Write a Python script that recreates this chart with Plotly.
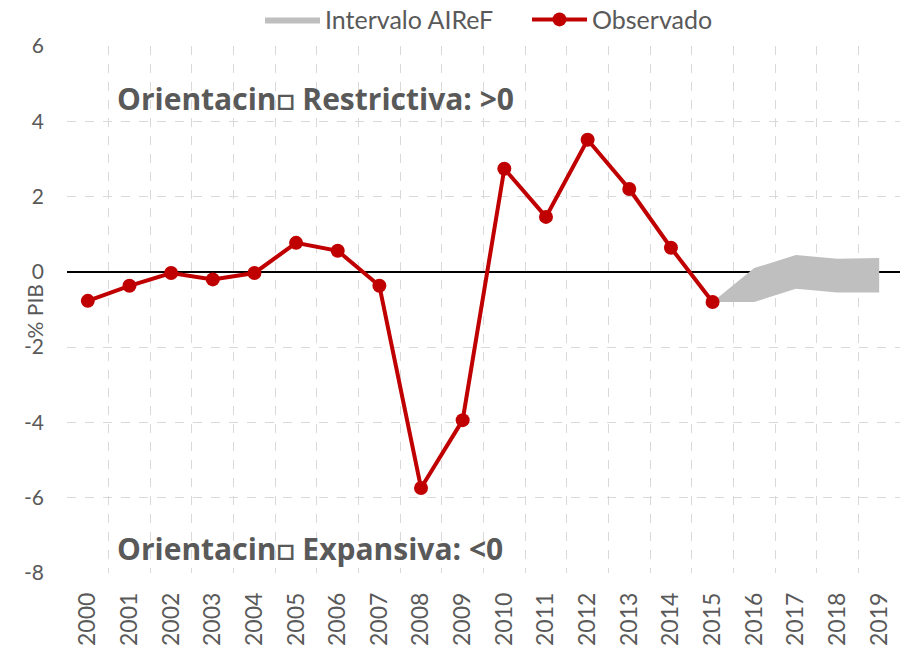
import plotly.graph_objects as go

years = [str(y) for y in range(2000, 2020)]
obs_years = years[:16]
observado = [-0.77, -0.37, -0.03, -0.2, -0.03, 0.77, 0.56, -0.37, -5.74, -3.94,
             2.74, 1.46, 3.51, 2.2, 0.64, -0.8]
band_years = ["2015", "2016", "2017", "2018", "2019"]
band_low = [-0.8, -0.8, -0.45, -0.55, -0.55]
band_high = [-0.8, 0.1, 0.45, 0.35, 0.37]
ytick_vals = [-8, -6, -4, -2, 0, 2, 4, 6]
ytick_text = ["-8", "-6", "-4", "-2", "0", "2", "4", "6"]
label_top = "Orientacin\u25a1 Restrictiva: >0"
label_bottom = "Orientacin\u25a1 Expansiva: <0"
y_title = "% PIB"

FONT = "Lato, 'Open Sans', sans-serif"
BOLD_FONT = "'Open Sans', Lato, sans-serif"
GRAY = "#595959"

fig = go.Figure()
fig.add_trace(go.Scatter(x=band_years, y=band_low, mode="lines",
                         line=dict(width=0, color="#bfbfbf"), showlegend=False,
                         hoverinfo="skip"))
fig.add_trace(go.Scatter(x=band_years, y=band_high, mode="lines", fill="tonexty",
                         fillcolor="#bfbfbf", line=dict(width=0, color="#bfbfbf"),
                         name="Intervalo AIReF"))
fig.add_trace(go.Scatter(x=obs_years, y=observado, mode="lines+markers",
                         line=dict(color="#c00000", width=4),
                         marker=dict(color="#c00000", size=14),
                         name="Observado"))

fig.update_layout(
    width=903, height=650,
    margin=dict(l=67, r=3, t=46, b=77, autoexpand=False),
    paper_bgcolor="white", plot_bgcolor="white",
    font=dict(family=FONT, color=GRAY, size=20),
    showlegend=True,
    legend=dict(orientation="h", x=(265 - 67 - 5) / 833, xanchor="left",
                y=1.05, yanchor="middle",
                font=dict(size=25, color=GRAY), traceorder="normal",
                itemwidth=55, entrywidth=197, entrywidthmode="pixels",
                bgcolor="rgba(0,0,0,0)"),
    xaxis=dict(type="category", categoryorder="array", categoryarray=years,
               range=[-0.5, 19.5], tickangle=-90, tickson="boundaries",
               showgrid=True, gridcolor="#d9d9d9", griddash="dash", gridwidth=1,
               ticks="", tickfont=dict(size=23, color=GRAY), showline=False,
               zeroline=False, automargin=False, ticklabelstandoff=14),
    yaxis=dict(range=[-8, 6], tickvals=ytick_vals, ticktext=ytick_text,
               showgrid=True, gridcolor="#d9d9d9", griddash="dash", gridwidth=1,
               zeroline=True, zerolinecolor="black", zerolinewidth=2,
               tickfont=dict(size=21, color=GRAY), ticks="",
               showline=False, automargin=False, ticklabelstandoff=22),
    annotations=[
        dict(text="<b>" + label_top + "</b>", x=(115 - 67) / 833, xref="paper",
             xanchor="left", y=4.6, yref="y", yanchor="middle", showarrow=False,
             font=dict(size=30, color=GRAY, family=BOLD_FONT)),
        dict(text="<b>" + label_bottom + "</b>", x=(115 - 67) / 833, xref="paper",
             xanchor="left", y=-7.35, yref="y", yanchor="middle", showarrow=False,
             font=dict(size=30, color=GRAY, family=BOLD_FONT)),
        dict(text=y_title, x=(34 - 67) / 833, xref="paper", xanchor="center",
             y=-1.05, yref="y", yanchor="middle", textangle=-90, showarrow=False,
             font=dict(size=21, color=GRAY, family=FONT)),
    ],
)

fig.write_html("out.html", config={"displayModeBar": False},
               post_script="document.body.style.margin='0';")
